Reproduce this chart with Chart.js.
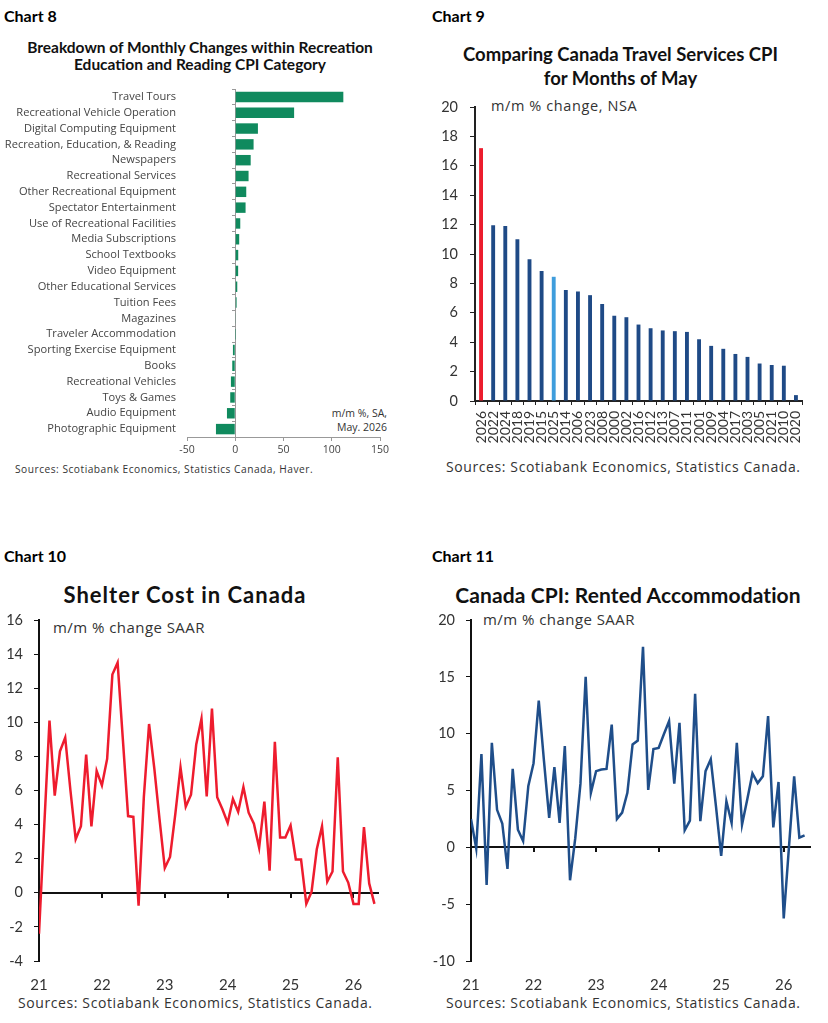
<!DOCTYPE html>
<html>
<head>
<meta charset="utf-8">
<script src="https://cdn.jsdelivr.net/npm/chart.js@4.4.1/dist/chart.umd.min.js"></script>
<style>
  body { margin: 0; background: #fff; width: 828px; height: 1023px; position: relative; overflow: hidden; font-family: "Open Sans", Lato, sans-serif; }
  .t { position: absolute; white-space: nowrap; }
  .num { font-family: Lato, sans-serif; font-weight: bold; font-size: 16px; line-height: 20px; color: #000; }
  .ttl { font-family: Lato, sans-serif; font-weight: bold; color: #111; text-align: center; }
  .src { color: #333; }
  canvas { position: absolute; }
</style>
</head>
<body>

<div class="t num" style="left:4px;top:6px;">Chart 8</div>
<div class="t num" style="left:432px;top:6px;">Chart 9</div>
<div class="t num" style="left:4px;top:546px;">Chart 10</div>
<div class="t num" style="left:432px;top:546px;">Chart 11</div>

<div class="t ttl" style="left:0;width:400px;top:39px;font-size:15.5px;line-height:16.5px;">Breakdown of Monthly Changes within Recreation<br>Education and Reading CPI Category</div>
<div class="t ttl" style="left:414px;width:413px;top:42px;font-size:18.5px;line-height:24px;">Comparing Canada Travel Services CPI<br>for Months of May</div>
<div class="t ttl" style="left:0;width:370px;top:582px;font-size:22px;line-height:26px;letter-spacing:1px;">Shelter Cost in Canada</div>
<div class="t ttl" style="left:428px;width:400px;top:582px;font-size:21px;line-height:26px;letter-spacing:0.1px;">Canada CPI: Rented Accommodation</div>

<div class="t src" style="left:276px;width:111px;text-align:right;top:407px;font-size:10.5px;line-height:13.5px;">m/m %, SA,<br>May. 2026</div>
<div class="t src" style="left:491px;top:97px;font-size:14.5px;line-height:18px;letter-spacing:0.6px;">m/m % change, NSA</div>
<div class="t src" style="left:53px;top:618px;font-size:15px;line-height:18px;letter-spacing:0.45px;">m/m % change SAAR</div>
<div class="t src" style="left:483px;top:610px;font-size:15px;line-height:18px;letter-spacing:0.45px;">m/m % change SAAR</div>

<div class="t src" style="left:15px;top:461px;font-size:10.2px;line-height:16px;letter-spacing:0.5px;">Sources: Scotiabank Economics, Statistics Canada, Haver.</div>
<div class="t src" style="left:446px;top:458px;font-size:14px;line-height:18px;letter-spacing:0.6px;">Sources: Scotiabank Economics, Statistics Canada.</div>
<div class="t src" style="left:18px;top:994px;font-size:14px;line-height:18px;letter-spacing:0.6px;">Sources: Scotiabank Economics, Statistics Canada.</div>
<div class="t src" style="left:446px;top:994px;font-size:14px;line-height:18px;letter-spacing:0.6px;">Sources: Scotiabank Economics, Statistics Canada.</div>

<canvas id="c8" width="414" height="380" style="left:0;top:80px;"></canvas>
<canvas id="c9" width="414" height="370" style="left:414px;top:90px;"></canvas>
<canvas id="c10" width="414" height="400" style="left:0;top:600px;"></canvas>
<canvas id="c11" width="414" height="400" style="left:414px;top:600px;"></canvas>

<script>
// Chart 8: recreation, education and reading components, m/m %, SA
const recCategories = [
  'Travel Tours', 'Recreational Vehicle Operation', 'Digital Computing Equipment',
  'Recreation, Education, & Reading', 'Newspapers', 'Recreational Services',
  'Other Recreational Equipment', 'Spectator Entertainment', 'Use of Recreational Facilities',
  'Media Subscriptions', 'School Textbooks', 'Video Equipment', 'Other Educational Services',
  'Tuition Fees', 'Magazines', 'Traveler Accommodation', 'Sporting Exercise Equipment',
  'Books', 'Recreational Vehicles', 'Toys & Games', 'Audio Equipment', 'Photographic Equipment'
];
const recChanges = [112, 61, 23.5, 19, 16, 13.8, 11.4, 10.7, 5.2, 4.1, 3.1, 3.0, 2.1, 1.4, 0.4, 0.1,
  -2.4, -3.1, -4.5, -5.2, -8.6, -20];
const recTicks = [-50, 0, 50, 100, 150];

// Chart 9: travel services CPI in May, sorted
const mayYears = ['2026', '2022', '2024', '2018', '2019', '2015', '2025', '2014', '2006', '2023',
  '2008', '2000', '2002', '2016', '2012', '2013', '2007', '2011', '2001', '2009', '2004',
  '2017', '2003', '2005', '2021', '2010', '2020'];
const mayChanges = [17.2, 11.95, 11.9, 11.0, 9.65, 8.85, 8.45, 7.55, 7.45, 7.2, 6.6, 5.8, 5.7,
  5.2, 4.95, 4.8, 4.75, 4.7, 4.2, 3.75, 3.55, 3.2, 3.0, 2.55, 2.45, 2.4, 0.4];

// Charts 10 and 11: monthly, Jan 2021 to May 2026 (x in years, 21 = 2021)
const startYear = 21;
const shelterSaar = [-2.4, 3.9, 10.1, 5.7, 8.3, 9.1, 6.0, 3.15, 3.9, 8.1, 3.9, 7.15,
  6.3, 7.85, 12.8, 13.5, 9.0, 4.5, 4.45, -0.75, 5.6, 9.9, 7.3, 4.3,
  1.45, 2.1, 4.6, 7.35, 5.05, 5.75, 8.7, 10.2, 5.65, 10.8, 5.6, 4.9,
  4.1, 5.5, 4.75, 6.2, 4.7, 4.05, 2.65, 5.35, 1.3, 8.85, 3.25, 3.25,
  3.95, 1.95, 1.95, -0.65, 0.05, 2.55, 3.9, 0.65, 1.25, 7.95, 1.25, 0.6,
  -0.65, -0.65, 3.85, 0.55, -0.65];
const rentSaar = [2.5, -0.1, 8.2, -3.3, 9.2, 3.3, 2.1, -1.9, 6.9, 1.55, 0.55, 5.4,
  7.4, 12.9, 7.6, 2.6, 7.05, 2.15, 8.9, -2.9, 0.8, 5.6, 15.0, 4.8,
  6.7, 6.85, 6.9, 10.8, 2.5, 3.05, 4.8, 9.05, 9.4, 17.65, 5.05, 8.65,
  8.75, 9.95, 11.1, 5.6, 10.95, 1.5, 2.35, 13.5, 2.3, 6.7, 7.75, 3.6,
  -0.75, 4.05, 2.15, 9.2, 2.0, 4.2, 6.5, 5.65, 6.25, 11.55, 1.75, 5.75,
  -6.25, 0.0, 6.25, 0.85, 1.05];

Chart.defaults.font.family = 'Lato';
Chart.defaults.color = '#333';

const noPlugins = { legend: { display: false }, tooltip: { enabled: false } };

// fixed axis width, and no extra room reserved above/below for the end labels
function fixWidth(w) {
  return s => { s.width = w; s.paddingTop = 0; s.paddingBottom = 0; };
}

new Chart(document.getElementById('c8'), {
  type: 'bar',
  data: {
    labels: recCategories,
    datasets: [{ data: recChanges, backgroundColor: '#108a5e', barPercentage: 0.66, categoryPercentage: 1 }]
  },
  options: {
    indexAxis: 'y', responsive: false, animation: false,
    layout: { padding: { top: 9, right: 34, left: 0, bottom: 0 } },
    plugins: noPlugins,
    scales: {
      x: {
        min: recTicks[0], max: recTicks[recTicks.length - 1],
        afterBuildTicks: s => { s.ticks = recTicks.map(v => ({ value: v })); },
        ticks: { color: '#444', font: { size: 10.5, family: 'Open Sans' }, padding: 3 },
        grid: { drawOnChartArea: false, tickLength: 4, color: '#999' },
        border: { color: '#999' },
        afterFit: s => { s.height = 23; }
      },
      y: {
        position: 'left',
        grid: { display: false, drawTicks: false },
        border: { display: false },
        ticks: { color: '#444', font: { size: 11.1, family: 'Open Sans' }, padding: 11, autoSkip: false },
        afterFit: fixWidth(187)
      },
      y0: {
        type: 'category', axis: 'y', position: { x: 0 }, offset: true,
        ticks: { display: false },
        grid: { drawOnChartArea: false, offset: true, tickLength: 3, color: '#999' },
        border: { color: '#999' }
      }
    }
  }
});

new Chart(document.getElementById('c9'), {
  type: 'bar',
  data: {
    labels: mayYears,
    datasets: [{
      data: mayChanges,
      backgroundColor: mayYears.map(y => y === '2026' ? '#ec1c2d' : (y === '2025' ? '#3f9ddc' : '#1f4a86')),
      barPercentage: 0.32, categoryPercentage: 1
    }]
  },
  options: {
    responsive: false, animation: false,
    layout: { padding: { top: 17, right: 26, left: 0, bottom: 0 } },
    plugins: noPlugins,
    scales: {
      x: {
        ticks: { minRotation: 90, maxRotation: 90, autoSkip: false, font: { size: 14 }, color: '#333', padding: 6 },
        grid: { drawOnChartArea: false, tickLength: 4, color: '#222' },
        border: { color: '#222', width: 2 },
        afterFit: s => { s.height = 59; }
      },
      y: {
        min: 0, max: 20,
        ticks: { stepSize: 2, font: { size: 14.5 }, color: '#333', padding: 12 },
        grid: { drawOnChartArea: false, tickLength: 5, color: '#222' },
        border: { color: '#222', width: 2 },
        afterFit: fixWidth(61)
      }
    }
  }
});

function monthly(values) {
  return values.map((v, i) => ({ x: startYear + i / 12, y: v }));
}

function lineChart(id, values, color, yMin, yMax, yStep, xMax, yWidth, rightPad) {
  return new Chart(document.getElementById(id), {
    type: 'line',
    data: {
      datasets: [{ data: monthly(values), borderColor: color, borderWidth: 2.5, pointRadius: 0, tension: 0 }]
    },
    options: {
      responsive: false, animation: false,
      layout: { padding: { top: 20, right: rightPad, left: 0, bottom: 0 } },
      plugins: noPlugins,
      scales: {
        x: {
          type: 'linear', axis: 'x', position: { y: 0 }, min: startYear, max: xMax,
          ticks: { display: false, stepSize: 1, includeBounds: false },
          grid: { drawOnChartArea: false, tickLength: 4, color: '#111', lineWidth: 2 },
          border: { color: '#111', width: 2 }
        },
        x2: {
          type: 'linear', axis: 'x', position: 'bottom', min: startYear, max: xMax,
          ticks: { stepSize: 1, includeBounds: false, font: { size: 15 }, color: '#333', padding: 15 },
          grid: { display: false, drawTicks: false },
          border: { display: false },
          afterFit: s => { s.height = 39; }
        },
        y: {
          min: yMin, max: yMax,
          ticks: { stepSize: yStep, font: { size: 14.5 }, color: '#333', padding: 11 },
          grid: { drawOnChartArea: false, tickLength: 5, color: '#111' },
          border: { color: '#111', width: 2 },
          afterFit: fixWidth(yWidth)
        }
      }
    }
  });
}

lineChart('c10', shelterSaar, '#ee1c2e', -4, 16, 2, 26.39, 39, 36);
lineChart('c11', rentSaar, '#1f4e8a', -10, 20, 5, 26.42, 57, 18);
</script>
</body>
</html>
